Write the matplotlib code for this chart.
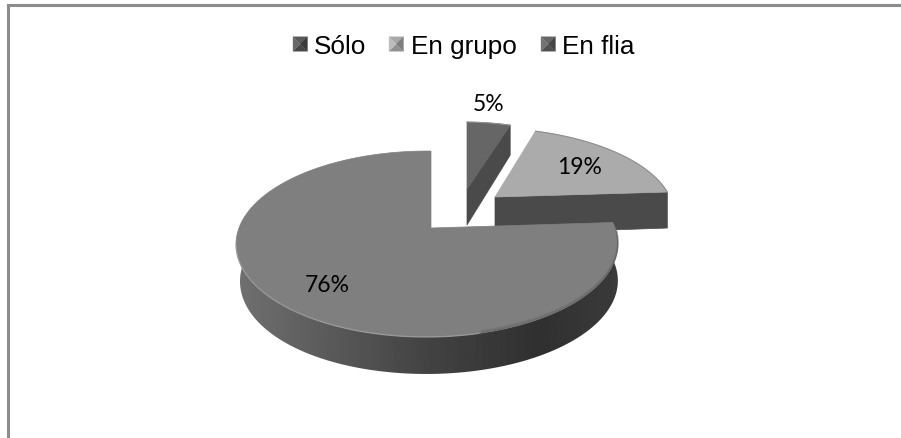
import numpy as np
import matplotlib
matplotlib.use('Agg')
import matplotlib.pyplot as plt
from matplotlib.patches import Polygon

# Data
categories = ['Sólo', 'En grupo', 'En flia']
values = [5, 19, 76]
pct_labels = ['5%', '19%', '76%']

# Slice styling and placement (pixels)
top_colors = ['#666666', '#ababab', '#7f7f7f']
side_colors = ['#4a4a4a', '#4a4a4a', '#4a4a4a']
apexes = [(467, 190), (495, 198), (431, 229)]
scales = [0.87, 0.95, 1.0]
skews = [(0, 0), (-7, 4), (0, 0)]
depth = 37
label_pos = [(489, 105), (580, 168), (327, 286)]
legend_x = [293, 389, 541]
legend_text_x = [314, 411, 562]
legend_base = 54
legend_mid = 45
legend_shades = [
    ('#5a5a5a', '#686868', '#3a3a3a', '#464646'),
    ('#a8a8a8', '#bcbcbc', '#7e7e7e', '#909090'),
    ('#666666', '#747474', '#454545', '#505050'),
]

fig = plt.figure(figsize=(9.01, 4.39), dpi=100)
ax = fig.add_axes([0, 0, 1, 1])
ax.set_xlim(0, 901)
ax.set_ylim(439, 0)
ax.axis('off')


def circle_pts(theta, apex, scale, skew=(0, 0)):
    # Perspective view of a flat disc, far side looks smaller
    X, Y = np.sin(theta), np.cos(theta)
    w = 1 + 0.172 * Y + 0.021 * X
    return (apex[0] + scale * 188 * X / w + skew[0] * Y,
            apex[1] - scale * 90.2 * Y / w + skew[1] * Y)


# ── Frame: only top and left edges show ──
ax.plot([8, 8, 901], [439, 6, 6], color='#8c8c8c', lw=2.2, solid_joinstyle='miter')

# ── Slices, back to front ──
edges = np.radians(np.cumsum([0] + values) * 3.6)
for i in range(3):
    th = np.linspace(edges[i], edges[i + 1], 300)
    ex, ey = circle_pts(th, apexes[i], scales[i], skews[i])
    ax_, ay_ = apexes[i]
    z = 2 + i

    if i < 2:
        # cut face on the near side of the slice
        if i == 0:
            face = [(ax_, ay_), (ex[-1], ey[-1]), (ex[-1], ey[-1] + 30), (ax_, ay_ + 36)]
        else:
            face = [(ax_, ay_), (ex[-1], ey[-1]), (ex[-1], ey[-1] + depth - 1), (ax_, ay_ + depth)]
        ax.add_patch(Polygon(face, closed=True, fc=side_colors[i], ec=side_colors[i], lw=0.5,
                             joinstyle='round', zorder=z))
    else:
        # curved wall of the big slice with left to right shading
        vis = (ey > 232) | (ex > 560)
        wx, wy = ex[vis], ey[vis]
        wx = wx + 4 * np.clip((ax_ - wx) / 195, 0, 1) ** 3
        wall = np.column_stack([np.r_[wx, wx[::-1]], np.r_[wy, wy[::-1] + depth]])
        clip = Polygon(wall, closed=True, fc='none', ec='none', zorder=z)
        ax.add_patch(clip)
        grad = np.interp(np.linspace(230, 625, 400), [236, 300, 430, 540, 618],
                         [0.44, 0.38, 0.26, 0.19, 0.23]).reshape(1, -1)
        im = ax.imshow(grad, extent=(230, 625, 400, 200), cmap='gray', vmin=0, vmax=1,
                       aspect='auto', zorder=z)
        im.set_clip_path(clip)
        ax.set_xlim(0, 901)
        ax.set_ylim(439, 0)

    pts = np.column_stack([np.r_[ax_, ex], np.r_[ay_, ey]])
    ax.add_patch(Polygon(pts, closed=True, fc=top_colors[i], ec=top_colors[i], lw=0.5,
                         joinstyle='round', zorder=z + 0.1))

    if i == 2:
        # soft bevel along the front rim
        light = (ey > 245) & (ex < 480)
        ax.plot(ex[light], ey[light], color='#a8a8a8', lw=1.0, alpha=0.6, zorder=z + 0.2)
        for off, al in zip([0.5, 1.5, 2.5], [0.35, 0.2, 0.1]):
            dark = (ex > 480) & (ey > 232)
            ax.plot(ex[dark], ey[dark] - off, color='#555555', lw=1.2, alpha=al, zorder=z + 0.3)
    else:
        ax.plot(ex, ey, color='#8f8f8f', lw=0.8, zorder=z + 0.2)

    ax.text(label_pos[i][0], label_pos[i][1], pct_labels[i], ha='center', va='center',
            fontsize=16.5, family='Lato', color='black', zorder=10)

# ── Legend with pyramid style keys ──
s = 14.5
for x0, x_txt, name, shades in zip(legend_x, legend_text_x, categories, legend_shades):
    y0 = legend_mid - s / 2
    c = (x0 + s / 2, legend_mid)
    corners = [(x0, y0), (x0 + s, y0), (x0 + s, y0 + s), (x0, y0 + s)]
    # top, right, bottom, left triangles
    order = [(0, 1, shades[0]), (1, 2, shades[2]), (2, 3, shades[3]), (3, 0, shades[1])]
    for a, b, col in order:
        ax.add_patch(Polygon([corners[a], corners[b], c], closed=True, fc=col, ec=col, lw=0.2, zorder=5))
    ax.text(x_txt, legend_base, name, ha='left', va='baseline', fontsize=18.8,
            family='Liberation Sans', color='black', zorder=10)

fig.savefig('out.png', dpi=100)
